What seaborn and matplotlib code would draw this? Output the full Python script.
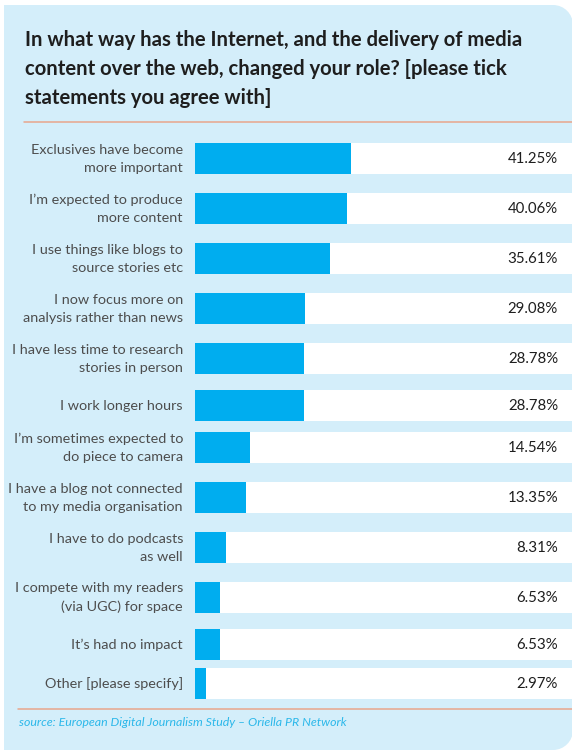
import numpy as np
import matplotlib
matplotlib.use("Agg")
import matplotlib.pyplot as plt
from matplotlib.path import Path
from matplotlib.patches import PathPatch
from matplotlib.lines import Line2D
import matplotlib.transforms as mtransforms
import seaborn as sns

# ---- data -------------------------------------------------------------
categories = [
    "Exclusives have become\nmore important",
    "I\u2019m expected to produce\nmore content",
    "I use things like blogs to\nsource stories etc",
    "I now focus more on\nanalysis rather than news",
    "I have less time to research\nstories in person",
    "I work longer hours",
    "I\u2019m sometimes expected to\ndo piece to camera",
    "I have a blog not connected\nto my media organisation",
    "I have to do podcasts\nas well",
    "I compete with my readers\n(via UGC) for space",
    "It\u2019s had no impact",
    "Other [please specify]",
]
shares = [41.25, 40.06, 35.61, 29.08, 28.78, 28.78, 14.54, 13.35, 8.31, 6.53, 6.53, 2.97]
value_labels = ["41.25%", "40.06%", "35.61%", "29.08%", "28.78%", "28.78%",
                "14.54%", "13.35%", "8.31%", "6.53%", "6.53%", "2.97%"]

title = ("In what way has the Internet, and the delivery of media\n"
         "content over the web, changed your role? [please tick\n"
         "statements you agree with]")
source = "source: European Digital Journalism Study \u2013 Oriella PR Network"

# ---- style ------------------------------------------------------------
sns.set_theme(style="white")
plt.rcParams["font.family"] = ["Lato", "DejaVu Sans"]

PANEL = "#D4EEFA"
BAR = "#00ADEF"
RULE = "#E8A58C"
LABEL = "#4D4D4D"
INK = "#1E1E1E"
SOURCE = "#2CB8EA"

W, H = 572, 751
fig = plt.figure(figsize=(W / 100, H / 100), dpi=100)
fig.patch.set_facecolor("white")

# pixel-space transform (origin top-left)
px = mtransforms.Affine2D().scale(1 / W, -1 / H).translate(0, 1) + fig.transFigure

# background panel: square left corners, rounded right corners
x0, y0, x1, y1, r = 4, 5, 573, 750, 20
k = 0.5523 * r
verts = [
    (x0, y0), (x1 - r, y0),
    (x1 - r + k, y0), (x1, y0 + r - k), (x1, y0 + r),
    (x1, y1 - r),
    (x1, y1 - r + k), (x1 - r + k, y1), (x1 - r, y1),
    (x0, y1), (x0, y0),
]
codes = [Path.MOVETO, Path.LINETO,
         Path.CURVE4, Path.CURVE4, Path.CURVE4,
         Path.LINETO,
         Path.CURVE4, Path.CURVE4, Path.CURVE4,
         Path.LINETO, Path.CLOSEPOLY]
fig.patches.append(PathPatch(Path(verts, codes), transform=px,
                             facecolor=PANEL, edgecolor="none", zorder=-5))

# ---- row layout: rows with two-line labels get extra room ----------------
n_lines = [c.count("\n") + 1 for c in categories]
BAR_H = 31
centers = [158.5]
for a, b in zip(n_lines[:-1], n_lines[1:]):
    centers.append(centers[-1] + 39 + 8 * (a - 1) + 3 * (b - 1))
min_gap = min(np.diff(centers))

AX_L, AX_R, AX_T, AX_B = 195, 572, 130, 712
ax = fig.add_axes([AX_L / W, 1 - AX_B / H, (AX_R - AX_L) / W, (AX_B - AX_T) / H])
ax.set_facecolor("none")
ax.set_zorder(2)
XMAX = (AX_R - AX_L) / 3.79

# white row bands
ax.barh(centers, [XMAX] * len(centers), height=BAR_H, left=0,
        color="white", edgecolor="none", zorder=1)

sns.barplot(x=shares, y=centers, orient="h", native_scale=True,
            width=BAR_H / min_gap, color=BAR, saturation=1, errorbar=None,
            linewidth=0, ax=ax, zorder=2)

ax.set_xlim(0, XMAX)
ax.set_ylim(AX_B, AX_T)
ax.set_xlabel("")
ax.set_ylabel("")
ax.set_xticks([])
ax.set_yticks([])
for s in ax.spines.values():
    s.set_visible(False)

lab_tr = mtransforms.blended_transform_factory(ax.transAxes, ax.transData)
for yc, cat, vl in zip(centers, categories, value_labels):
    ax.text(-12 / (AX_R - AX_L), yc, cat, transform=lab_tr, ha="right", va="center",
            multialignment="right", fontsize=10.4, color=LABEL, linespacing=1.6,
            clip_on=False)
    ax.text(1 - 14 / (AX_R - AX_L), yc, vl, transform=lab_tr, ha="right", va="center",
            fontsize=10.8, color=INK)

# title, rules and source
fig.text(25 / W, 1 - 30 / H, title, ha="left", va="top", fontsize=14.6,
         fontweight="bold", color=INK, linespacing=1.55)
fig.lines.append(Line2D([24 / W, 1], [1 - 122 / H] * 2, transform=fig.transFigure,
                        color=RULE, lw=1.1))
fig.lines.append(Line2D([18 / W, 1], [1 - 709 / H] * 2, transform=fig.transFigure,
                        color=RULE, lw=1.1))
fig.text(19 / W, 1 - 723 / H, source, ha="left", va="center", fontsize=8.9,
         fontstyle="italic", color=SOURCE)

fig.savefig("out.png", dpi=100, facecolor="white")
